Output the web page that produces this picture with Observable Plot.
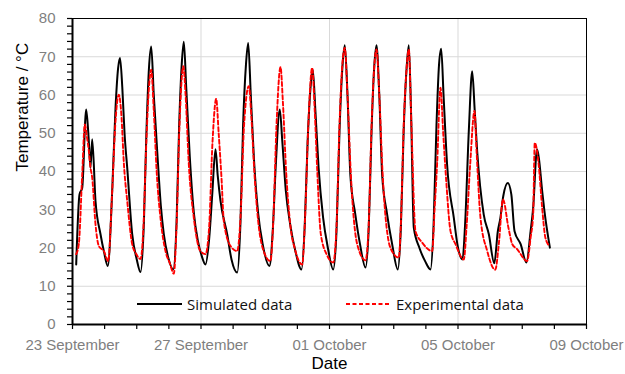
<!DOCTYPE html>
<html>
<head>
<meta charset="utf-8">
<script src="https://cdn.jsdelivr.net/npm/d3@7"></script>
<script src="https://cdn.jsdelivr.net/npm/@observablehq/plot@0.6"></script>
<style>
  html, body { margin: 0; padding: 0; background: #fff; }
  #wrap { position: relative; width: 625px; height: 374px; }
  .leg { position: absolute; top: 294px; height: 20px; display: flex; align-items: center;
         font-family: "Open Sans", "Noto Sans", sans-serif; font-size: 15px; color: #111; }
  .leg svg { margin-right: 5px; }
</style>
</head>
<body>
<div id="wrap"></div>
<script>
// ---- Data (days since 23 September 00:00, temperature in °C) ----
const startDate = "2016-09-23";
const endDate = "2016-10-09";

const simDay = [0.115,0.218,0.302,0.426,0.50,0.560,0.613,0.716,0.872,0.98,1.099,
  1.236,1.339,1.42,1.479,1.55,1.62,1.703,1.858,2.0,2.117,
  2.22,2.30,2.38,2.45,2.53,2.637,2.75,2.842,2.98,3.135,
  3.24,3.32,3.40,3.465,3.54,3.65,3.78,3.90,4.02,4.14,
  4.25,4.35,4.451,4.52,4.607,4.815,4.95,5.127,
  5.23,5.31,5.40,5.469,5.55,5.65,5.78,5.92,6.132,
  6.23,6.33,6.453,6.53,6.64,6.78,6.93,7.128,
  7.23,7.32,7.41,7.48,7.56,7.66,7.80,7.95,8.115,
  8.218,8.311,8.40,8.476,8.56,8.65,8.80,8.95,9.121,
  9.22,9.31,9.39,9.463,9.55,9.64,9.79,9.95,10.126,
  10.22,10.31,10.40,10.469,10.54,10.624,10.80,10.98,11.144,
  11.24,11.33,11.41,11.477,11.55,11.66,11.87,11.98,12.14,
  12.22,12.336,12.442,12.52,12.597,12.80,12.96,13.13,
  13.24,13.32,13.41,13.55,13.66,13.76,13.95,14.13,
  14.26,14.34,14.46,14.515,14.62,14.69,14.86];
const simTemp = [15.7,34,35.7,56.2,49,41,48.4,32.3,23.6,19,15.3,
  34.9,56.6,67,69.7,62,50,41,23.6,17,13.7,
  26,50,67,72.7,60,45.3,31,23.6,17.5,14.4,
  27,52,68,73.9,62,44,29,22,18,15.7,
  22,34,45.8,39,32.3,23.6,17,13.6,
  27,52,68,73.6,60,43,29,21,15.3,
  24,42,56.2,48,35,26,19.5,14.4,
  26,48,62,66.6,56,41,28,20,14.4,
  24.4,50.5,67,73,60,39,29,21,14.9,
  25,51,67,73,60,39,29,21,14.4,
  25,51,67,73,55,25.3,20,16.5,14.4,
  26,52,68,72.1,60,41.9,27.9,21,17,
  26,50.5,66.2,56,45.3,28.8,23.6,16,
  24.4,27.9,33.6,37,34,24.4,21,16.2,
  24.4,30.5,45.8,43.6,34.9,29.7,20.1];

const expDay = [0.115,0.196,0.302,0.384,0.45,0.509,0.560,0.613,0.716,0.82,0.976,1.11,
  1.236,1.33,1.44,1.52,1.60,1.703,1.858,1.98,2.117,
  2.20,2.30,2.38,2.45,2.53,2.62,2.75,2.90,3.03,3.153,
  3.24,3.33,3.45,3.52,3.62,3.776,3.98,4.14,
  4.25,4.36,4.473,4.55,4.64,4.71,4.92,5.127,
  5.23,5.34,5.488,5.57,5.66,5.78,5.92,6.16,
  6.25,6.35,6.475,6.55,6.65,6.78,6.93,7.15,
  7.24,7.34,7.46,7.54,7.62,7.73,7.93,8.115,
  8.22,8.31,8.40,8.476,8.56,8.66,8.862,9.121,
  9.22,9.31,9.39,9.463,9.55,9.65,9.899,10.157,
  10.22,10.31,10.40,10.469,10.55,10.677,10.886,11.197,
  11.27,11.35,11.455,11.54,11.63,11.767,11.922,12.18,
  12.27,12.38,12.514,12.58,12.70,12.909,13.16,
  13.27,13.40,13.57,13.69,13.84,14.15,
  14.26,14.34,14.39,14.51,14.62,14.72,14.85];
const expTemp = [18.4,21,39.2,52.3,49,45.3,41,38.4,26.2,20.5,19.2,16.6,
  34.9,52,60.1,55,42,32.3,21,18.5,17.1,
  24,48,62,66.6,56,40,27,19,16,13.3,
  26,52,67.5,60,42,27.9,19.2,18.4,
  25,48,59,50,38,27,20.5,19.2,
  28,52,62.3,54,40,27,20,16.6,
  27,52,67.3,58,40,26,19.5,15.7,
  28,52,67.1,56,40,23.6,18,16.2,
  26,52,68,72.3,60,40,21,16.8,
  26,52,67,71.9,60,40,20,17.5,
  26,52,67,71.9,52,24.4,21.4,19.2,
  30,42,61.9,50,38,24.4,21,17,
  26,42,55.8,45,27.9,19.2,14.3,
  21,32.7,25.3,21,19.7,16.6,
  22.7,28.8,47.5,41.9,30.5,22.7,20.5];

const seriesNames = ["Simulated data", "Experimental data"];
const yTickValues = [0,10,20,30,40,50,60,70,80];
const xLabelDates = ["2016-09-23","2016-09-27","2016-10-01","2016-10-05","2016-10-09"];
const xTitle = "Date";
const yTitle = "Temperature / °C";

// ---- Build tables ----
const t0 = Date.UTC(2016, 8, 23);
const toDate = d => new Date(t0 + d * 864e5);
const sim = simDay.map((d, i) => ({date: toDate(d), temp: simTemp[i]}));
const exp = expDay.map((d, i) => ({date: toDate(d), temp: expTemp[i]}));
const x0 = new Date(startDate), x1 = new Date(endDate);
const labelDates = xLabelDates.map(s => new Date(s));
const gridDates = labelDates.slice(1, -1);
const dayTicks = d3.utcDay.range(x0, d3.utcDay.offset(x1, 1));
const yMinor = d3.range(0, 81, 2);
const yGrid = yTickValues.slice(1, -1);
const grey = "#7f7f7f";

const chart = Plot.plot({
  width: 625, height: 374,
  marginLeft: 72, marginRight: 39, marginTop: 18, marginBottom: 50,
  x: {type: "utc", domain: [x0, x1]},
  y: {domain: [0, 80]},
  style: {fontFamily: "'Liberation Sans', Arial, sans-serif", fontSize: "15px", background: "white", overflow: "visible"},
  marks: [
    Plot.gridY(yGrid, {stroke: "#d9d9d9", strokeOpacity: 1, strokeWidth: 1}),
    Plot.gridX(gridDates, {stroke: "#d9d9d9", strokeOpacity: 1, strokeWidth: 1}),
    Plot.frame({stroke: "black", strokeWidth: 1}),
    Plot.axisY(yMinor, {tickSize: 5, tickFormat: () => "", stroke: "black", strokeWidth: 1.2, label: null}),
    Plot.axisY(yTickValues, {tickSize: 0, tickPadding: 17, fill: grey, fontSize: 15, label: null}),
    Plot.axisX(dayTicks, {tickSize: 5, tickFormat: () => "", stroke: "black", strokeWidth: 1.2, label: null}),
    Plot.axisX(labelDates, {tickSize: 0, tickPadding: 15, fill: grey, fontSize: 15,
      tickFormat: d3.utcFormat("%d %B"), label: null}),
    Plot.ruleX([x0], {stroke: "black", strokeWidth: 2}),
    Plot.ruleY([0], {stroke: "black", strokeWidth: 2}),
    Plot.line(sim, {x: "date", y: "temp", stroke: "black", strokeWidth: 2, curve: "monotone-x"}),
    Plot.line(exp, {x: "date", y: "temp", stroke: "#ff0000", strokeWidth: 1.9, strokeDasharray: "4,2.5", curve: "monotone-x"}),
    Plot.text([xTitle], {frameAnchor: "bottom", dy: 44, fontSize: 17, fill: "black"}),
    Plot.text([yTitle], {frameAnchor: "left", dx: -50, rotate: -90, fontSize: 17, fill: "black"})
  ]
});

const wrap = document.getElementById("wrap");
wrap.appendChild(chart);

// ---- Legend (HTML overlay inside the plot area) ----
const legendSpecs = [
  {name: seriesNames[0], left: 137, stroke: "black", dash: null},
  {name: seriesNames[1], left: 346, stroke: "#ff0000", dash: "4,2.5"}
];
for (const s of legendSpecs) {
  const div = document.createElement("div");
  div.className = "leg";
  div.style.left = s.left + "px";
  div.innerHTML = `<svg width="45" height="4"><line x1="0" x2="45" y1="2" y2="2" stroke="${s.stroke}" stroke-width="1.8" ${s.dash ? `stroke-dasharray="${s.dash}"` : ""}/></svg><span>${s.name}</span>`;
  wrap.appendChild(div);
}
</script>
</body>
</html>
